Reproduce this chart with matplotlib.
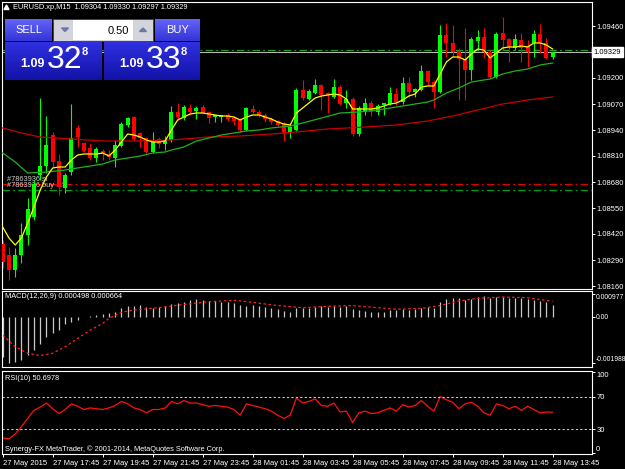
import numpy as np
import matplotlib.pyplot as plt
import matplotlib.transforms as mtransforms
from matplotlib.colors import LinearSegmentedColormap
from matplotlib.patches import Rectangle, Polygon

plt.rcParams['font.family'] = ['Liberation Sans', 'DejaVu Sans']

W, H = 625, 469

# EURUSD M15 candles, 27 May 15:45 .. 28 May 13:45
opens = [1.08370, 1.08315, 1.08240, 1.08315, 1.08415, 1.08505, 1.08715, 1.08760, 1.08915, 1.08785,
         1.08650, 1.08730, 1.08950, 1.08875, 1.08850, 1.08800, 1.08835, 1.08820, 1.08800, 1.08860,
         1.08965, 1.09005, 1.08925, 1.08900, 1.08830, 1.08895, 1.08870, 1.08890, 1.09030, 1.09000,
         1.09050, 1.09035, 1.09055, 1.09030, 1.09005, 1.09005, 1.09015, 1.09000, 1.08990, 1.08940,
         1.09045, 1.09030, 1.09015, 1.08995, 1.08985, 1.08970, 1.08925, 1.08940, 1.09140, 1.09095,
         1.09125, 1.09165, 1.09125, 1.09105, 1.09155, 1.09075, 1.09095, 1.08920, 1.09030, 1.09075,
         1.09030, 1.09065, 1.09070, 1.09120, 1.09080, 1.09175, 1.09130, 1.09140, 1.09235, 1.09180,
         1.09130, 1.09415, 1.09375, 1.09335, 1.09295, 1.09240, 1.09385, 1.09405, 1.09330, 1.09205,
         1.09425, 1.09395, 1.09350, 1.09390, 1.09360, 1.09375, 1.09420, 1.09375, 1.09304]
highs = [1.08390, 1.08355, 1.08350, 1.08475, 1.08600, 1.08690, 1.09100, 1.09010, 1.08930, 1.08820,
         1.08725, 1.09070, 1.08965, 1.08880, 1.08875, 1.08855, 1.08845, 1.08840, 1.08890, 1.08980,
         1.09005, 1.09010, 1.08930, 1.08905, 1.08930, 1.08905, 1.08910, 1.09060, 1.09075, 1.09065,
         1.09070, 1.09060, 1.09065, 1.09035, 1.09015, 1.09015, 1.09025, 1.09010, 1.09000, 1.09055,
         1.09065, 1.09040, 1.09025, 1.09005, 1.08990, 1.08980, 1.08960, 1.09150, 1.09190, 1.09145,
         1.09195, 1.09170, 1.09130, 1.09195, 1.09165, 1.09140, 1.09105, 1.09060, 1.09100, 1.09085,
         1.09070, 1.09075, 1.09155, 1.09150, 1.09205, 1.09205, 1.09150, 1.09265, 1.09240, 1.09190,
         1.09465, 1.09475, 1.09465, 1.09350, 1.09450, 1.09405, 1.09440, 1.09450, 1.09340, 1.09430,
         1.09505, 1.09400, 1.09420, 1.09425, 1.09390, 1.09440, 1.09470, 1.09400, 1.09330]
lows = [1.08250, 1.08190, 1.08205, 1.08275, 1.08365, 1.08490, 1.08690, 1.08725, 1.08755, 1.08615,
        1.08625, 1.08715, 1.08855, 1.08830, 1.08790, 1.08780, 1.08790, 1.08790, 1.08755, 1.08855,
        1.08955, 1.08890, 1.08855, 1.08825, 1.08825, 1.08850, 1.08840, 1.08880, 1.08990, 1.08990,
        1.09015, 1.08995, 1.09025, 1.08975, 1.08980, 1.08980, 1.08985, 1.08965, 1.08930, 1.08935,
        1.09025, 1.09005, 1.08980, 1.08970, 1.08960, 1.08885, 1.08900, 1.08935, 1.09090, 1.09090,
        1.09120, 1.09040, 1.09025, 1.09100, 1.09065, 1.09050, 1.08910, 1.08910, 1.09015, 1.09010,
        1.09015, 1.09015, 1.09065, 1.09065, 1.09070, 1.09105, 1.09105, 1.09135, 1.09165, 1.09050,
        1.09125, 1.09305, 1.09305, 1.09090, 1.09090, 1.09190, 1.09340, 1.09300, 1.09200, 1.09200,
        1.09340, 1.09280, 1.09340, 1.09280, 1.09255, 1.09305, 1.09325, 1.09295, 1.09297]
closes = [1.08280, 1.08240, 1.08315, 1.08415, 1.08545, 1.08670, 1.08760, 1.08865, 1.08780, 1.08655,
          1.08715, 1.08900, 1.08905, 1.08835, 1.08800, 1.08845, 1.08820, 1.08805, 1.08865, 1.08970,
          1.09000, 1.08895, 1.08900, 1.08830, 1.08880, 1.08870, 1.08890, 1.09030, 1.09005, 1.09055,
          1.09030, 1.09050, 1.09025, 1.09000, 1.09015, 1.09015, 1.08995, 1.08985, 1.08940, 1.09050,
          1.09030, 1.09015, 1.08995, 1.08980, 1.08965, 1.08925, 1.08955, 1.09140, 1.09100, 1.09135,
          1.09165, 1.09115, 1.09115, 1.09155, 1.09070, 1.09095, 1.08920, 1.09050, 1.09075, 1.09030,
          1.09060, 1.09075, 1.09125, 1.09080, 1.09175, 1.09130, 1.09145, 1.09235, 1.09180, 1.09130,
          1.09415, 1.09375, 1.09330, 1.09295, 1.09240, 1.09395, 1.09405, 1.09330, 1.09205, 1.09420,
          1.09390, 1.09355, 1.09395, 1.09350, 1.09330, 1.09420, 1.09375, 1.09300, 1.09329]

# moving averages
ma_fast = [1.08455, 1.08400, 1.08365, 1.08400, 1.08475, 1.08555, 1.08640, 1.08705, 1.08750, 1.08755,
           1.08755, 1.08790, 1.08815, 1.08820, 1.08820, 1.08820, 1.08825, 1.08810, 1.08840, 1.08880,
           1.08920, 1.08915, 1.08905, 1.08890, 1.08880, 1.08880, 1.08885, 1.08940, 1.08990, 1.09005,
           1.09020, 1.09025, 1.09025, 1.09020, 1.09015, 1.09010, 1.09010, 1.09005, 1.08990, 1.09005,
           1.09015, 1.09015, 1.09005, 1.08995, 1.08980, 1.08970, 1.08965, 1.09025, 1.09050, 1.09075,
           1.09100, 1.09110, 1.09115, 1.09120, 1.09115, 1.09095, 1.09045, 1.09045, 1.09045, 1.09045,
           1.09050, 1.09060, 1.09070, 1.09075, 1.09090, 1.09110, 1.09120, 1.09155, 1.09160, 1.09160,
           1.09220, 1.09280, 1.09305, 1.09305, 1.09290, 1.09320, 1.09345, 1.09340, 1.09300, 1.09325,
           1.09350, 1.09355, 1.09355, 1.09360, 1.09355, 1.09375, 1.09375, 1.09365, 1.09345]
ma_mid_bars = [0, 2, 4, 7, 10, 13, 16, 18, 20, 22, 24, 26, 27, 29, 31, 33, 35, 37, 39, 41,
               43, 46, 48, 51, 54, 57, 60, 63, 66, 68, 69, 71, 73, 75, 78, 80, 82, 84, 86, 88]
ma_mid = [1.08825, 1.08780, 1.08725, 1.08730, 1.08740, 1.08755, 1.08770, 1.08790, 1.08800, 1.08810,
          1.08825, 1.08830, 1.08840, 1.08855, 1.08885, 1.08900, 1.08915, 1.08925, 1.08935, 1.08940,
          1.08950, 1.08960, 1.08975, 1.09000, 1.09025, 1.09030, 1.09040, 1.09055, 1.09070, 1.09080,
          1.09090, 1.09125, 1.09150, 1.09180, 1.09195, 1.09220, 1.09235, 1.09245, 1.09265, 1.09275]
ma_slow_bars = [0, 3, 6, 11, 16, 21, 27, 33, 38, 43, 47, 52, 58, 63, 68, 72, 76, 80, 84, 88]
ma_slow = [1.08950, 1.08925, 1.08905, 1.08895, 1.08885, 1.08885, 1.08890, 1.08905, 1.08910, 1.08920,
           1.08930, 1.08945, 1.08955, 1.08965, 1.08985, 1.09010, 1.09040, 1.09070, 1.09090, 1.09105]

macd_hist = [-0.00173, -0.00199, -0.00194, -0.00187, -0.00166, -0.00144, -0.00120, -0.00089, -0.00072, -0.00058,
             -0.00033, -0.00024, -0.00014, -0.00001, 0.00003, 0.00007, 0.00010, 0.00014, 0.00022, 0.00036,
             0.00048, 0.00048, 0.00050, 0.00043, 0.00039, 0.00043, 0.00048, 0.00053, 0.00058, 0.00065,
             0.00072, 0.00076, 0.00072, 0.00068, 0.00068, 0.00065, 0.00062, 0.00058, 0.00050, 0.00048,
             0.00050, 0.00048, 0.00043, 0.00039, 0.00033, 0.00024, 0.00022, 0.00036, 0.00039, 0.00039,
             0.00043, 0.00048, 0.00043, 0.00048, 0.00043, 0.00048, 0.00033, 0.00029, 0.00024, 0.00022,
             0.00019, 0.00022, 0.00029, 0.00029, 0.00033, 0.00029, 0.00033, 0.00036, 0.00043, 0.00039,
             0.00062, 0.00076, 0.00079, 0.00082, 0.00072, 0.00076, 0.00086, 0.00091, 0.00082, 0.00086,
             0.00086, 0.00082, 0.00082, 0.00079, 0.00076, 0.00072, 0.00068, 0.00062, 0.000498]
macd_sig_bars = [0, 2, 4, 6, 8, 10, 12, 14, 16, 17, 19, 21, 25, 29, 33, 37, 40, 44, 48, 52,
                 56, 60, 63, 67, 70, 73, 76, 80, 84, 88]
macd_sig = [-0.00079, -0.00130, -0.00158, -0.00168, -0.00158, -0.00130, -0.00094, -0.00058, -0.00029, -0.00007,
            0.00019, 0.00029, 0.00039, 0.00053, 0.00065, 0.00071, 0.00062, 0.00048, 0.00039, 0.00045,
            0.00048, 0.00039, 0.00032, 0.00036, 0.00048, 0.00068, 0.00079, 0.00085, 0.00082, 0.000664]

rsi = [19, 18, 24, 33, 43, 53, 57, 62, 55, 49,
       54, 61, 58, 54, 56, 55, 54, 56, 59, 64,
       61, 56, 54, 50, 54, 54, 56, 64, 61, 65,
       62, 62, 60, 58, 59, 58, 57, 54, 47, 61,
       59, 57, 55, 52, 47, 43, 47, 68, 62, 64,
       67, 59, 58, 62, 51, 52, 38, 50, 52, 49,
       50, 53, 56, 52, 60, 57, 59, 65, 58, 52,
       70, 66, 63, 55, 61, 63, 58, 50, 47, 61,
       59, 55, 58, 53, 58, 54, 50, 51, 50.6978]

time_bars = [0, 8, 16, 24, 32, 40, 48, 56, 64, 72, 80, 88]
time_labels = ['27 May 2015', '27 May 17:45', '27 May 19:45', '27 May 21:45', '27 May 23:45',
               '28 May 01:45', '28 May 03:45', '28 May 05:45', '28 May 07:45', '28 May 09:45',
               '28 May 11:45', '28 May 13:45']
price_ticks = [1.09460, 1.09200, 1.09070, 1.08940, 1.08810, 1.08680, 1.08550, 1.08420, 1.08290, 1.08160]

bid = 1.09329
ask = 1.09338
sl_level = 1.08669
buy_level = 1.08640

SMALL = 5.3   # captions
AXFS = 5.5    # axis labels

fig = plt.figure(figsize=(W / 100, H / 100), dpi=100, facecolor='black')


def pane(top, bottom):
    ax = fig.add_axes([2 / W, 1 - bottom / H, 590 / W, (bottom - top) / H])
    ax.set_facecolor('black')
    for s in ax.spines.values():
        s.set_color('white')
        s.set_linewidth(0.8)
    ax.yaxis.tick_right()
    ax.tick_params(axis='y', colors='white', labelsize=AXFS, length=2.2, width=0.7, pad=0.8)
    ax.tick_params(axis='x', bottom=False, labelbottom=False)
    ax.set_xlim(-0.11, 94.3)
    return ax


# ---- price pane
ax = pane(2, 289)
x = np.arange(len(closes))
o, h, l, c = map(np.array, (opens, highs, lows, closes))
up = c >= o
for mask, col in ((up, '#00ff00'), (~up, '#ff0000')):
    ax.vlines(x[mask], l[mask], h[mask], color=col, lw=0.8, zorder=3)
    body = np.maximum(np.abs(c - o)[mask], 0.00004)
    ax.bar(x[mask], body, bottom=np.minimum(o, c)[mask], width=0.62, color=col, linewidth=0, zorder=3)

ax.plot(ma_slow_bars, ma_slow, color='#c80000', lw=0.9, zorder=4)
ax.plot(ma_mid_bars, ma_mid, color='#1fb01f', lw=0.9, zorder=4)
ax.plot(x, ma_fast, color='#ffff00', lw=0.9, zorder=5)

ax.axhline(bid, color='#b8b8b8', lw=0.8, zorder=1)
ax.axhline(ask, color='#20a020', lw=0.9, linestyle=(0, (6, 2.5, 1.5, 2.5)), zorder=1)
ax.axhline(sl_level, color='#e00000', lw=0.9, linestyle=(0, (6, 2.5, 1.5, 2.5)), zorder=1)
ax.axhline(buy_level, color='#00a000', lw=0.9, linestyle=(0, (6, 2.5, 1.5, 2.5)), zorder=1)
ax.text(0.7, sl_level + 0.00004, '#7863936 sl', color='#d0d0d0', fontsize=SMALL, va='bottom', zorder=2)
ax.text(0.7, buy_level + 0.00004, '#7863936 buy 1.5', color='#d0d0d0', fontsize=SMALL, va='bottom', zorder=2)

ax.set_ylim(1.08145, 1.09580)
ax.set_yticks(price_ticks)
ax.set_yticklabels([f'{p:.5f}' for p in price_ticks])
tr = mtransforms.blended_transform_factory(ax.transAxes, ax.transData)
ax.text(1.003, bid, f'{bid:.5f}', transform=tr, fontsize=AXFS, color='black', va='center', ha='left',
        bbox=dict(boxstyle='square,pad=0.2', fc='white', ec='white'), clip_on=False)

# ---- MACD pane
ax2 = pane(291, 367)
ax2.vlines(x, 0, macd_hist, color='#c8c8c8', lw=0.9)
ax2.plot(macd_sig_bars, macd_sig, color='#ff2020', lw=0.9, linestyle=(0, (2, 2)))
ax2.set_ylim(-0.0021737, 0.0011106)
ax2.set_yticks([0.000977, 0.0, -0.001988])
ax2.set_yticklabels(['0.000977', '0.00', '-0.001988'])
ax2.tick_params(axis='y', labelsize=4.9)
ax2.get_yticklabels()[0].set_va('top')
ax2.get_yticklabels()[2].set_va('bottom')

# ---- RSI pane
ax3 = pane(371, 454)
ax3.plot(x, rsi, color='#ff1010', lw=0.9)
for lvl in (70, 30):
    ax3.axhline(lvl, color='#c8c8c8', lw=0.8, linestyle=(0, (2, 2)))
ax3.set_ylim(-0.7, 101.4)
ax3.set_yticks([100, 70, 30, 0])
ax3.set_yticklabels(['100', '70', '30', '0'])
ax3.get_yticklabels()[0].set_va('top')
ax3.get_yticklabels()[3].set_va('bottom')
ax3.set_xticks(time_bars)
ax3.set_xticklabels(time_labels, ha='left')
ax3.tick_params(axis='x', bottom=True, labelbottom=True, colors='white', labelsize=AXFS,
                length=2.5, width=0.7, pad=1.5)

# ---- overlay: header, trading panel, window captions
ov = fig.add_axes([0, 0, 1, 1])
ov.axis('off')
ov.patch.set_alpha(0)


def grad_box(x0, y0, x1, y1, c_top, c_bot):
    cmap = LinearSegmentedColormap.from_list('g', [c_top, c_bot])
    ov.imshow(np.linspace(0, 1, 32)[:, None], extent=(x0, x1, y1, y0), cmap=cmap,
              aspect='auto', interpolation='bilinear', zorder=2)


ov.add_patch(Polygon([[4, 9.5], [9, 9.5], [6.5, 5]], closed=True, color='white'))
ov.text(13, 7.5, 'EURUSD.xp,M15  1.09304 1.09330 1.09297 1.09329', color='white', fontsize=SMALL, va='center')

grad_box(5, 19, 52, 41, '#6464f8', '#3434d8')
grad_box(155, 19, 200, 41, '#6464f8', '#3434d8')
ov.text(28.5, 30, 'SELL', color='white', fontsize=8, ha='center', va='center', zorder=3)
ov.text(177.5, 30, 'BUY', color='white', fontsize=8, ha='center', va='center', zorder=3)
ov.add_patch(Rectangle((53, 19), 100, 22, fc='#d4d4dc', ec='#404040', lw=0.6, zorder=2))
ov.add_patch(Rectangle((73, 20), 60, 20, fc='white', ec='none', zorder=2))
ov.add_patch(Polygon([[61.5, 28], [68.5, 28], [65, 31.5]], closed=True, color='#6a7aa8', zorder=3))
ov.add_patch(Polygon([[139.5, 31.5], [146.5, 31.5], [143, 28]], closed=True, color='#6a7aa8', zorder=3))
ov.text(129, 30.5, '0.50', color='black', fontsize=8, ha='right', va='center', zorder=3)

grad_box(5, 42, 102, 80, '#3030e0', '#1212a8')
grad_box(104, 42, 200, 80, '#3030e0', '#1212a8')
for x0, big in ((5, '32'), (104, '33')):
    ov.text(x0 + 15, 64, '1.09', color='white', fontsize=9, fontweight='bold', va='center', zorder=3)
    ov.text(x0 + 42, 60, big, color='white', fontsize=23, va='center', zorder=3)
    ov.text(x0 + 77, 52, '8', color='white', fontsize=8, fontweight='bold', va='center', zorder=3)

ov.text(5, 297, 'MACD(12,26,9) 0.000498 0.000664', color='white', fontsize=SMALL, va='center')
ov.text(5, 378, 'RSI(10) 50.6978', color='white', fontsize=SMALL, va='center')
ov.text(5, 449, 'Synergy-FX MetaTrader, \u00a9 2001-2014, MetaQuotes Software Corp.', color='white',
        fontsize=SMALL, va='center')

ov.set_xlim(0, W)
ov.set_ylim(H, 0)

fig.savefig('out.png', dpi=100, facecolor='black')
